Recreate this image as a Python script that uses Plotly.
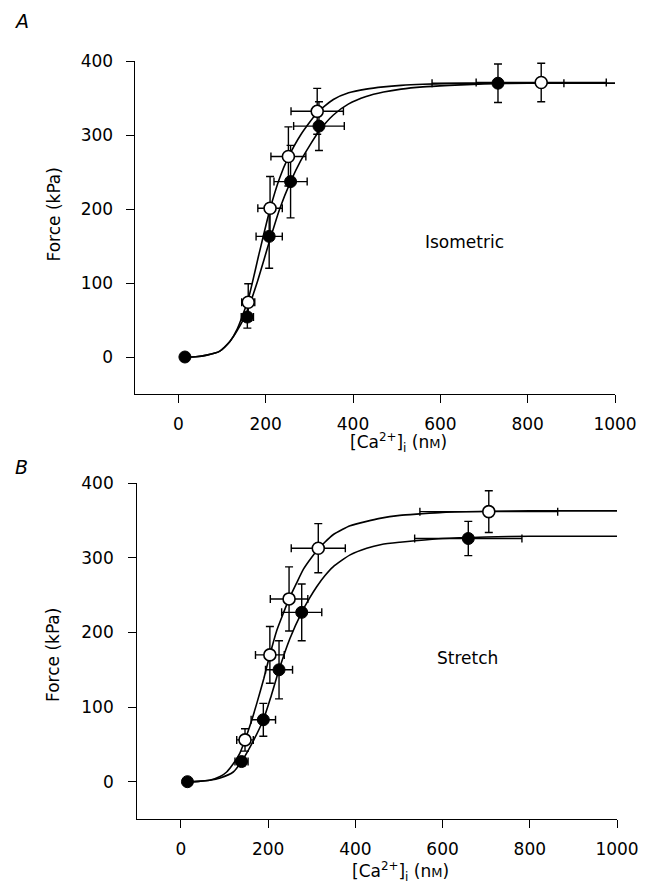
import plotly.graph_objects as go

# ---------------- Panel A : Isometric ----------------
a_fill_x = [15, 158, 208, 257, 322, 732]
a_fill_y = [0, 54, 163, 237, 312, 370]
a_fill_xerr = [0, 14, 30, 38, 58, 151]
a_fill_yerr = [0, 15, 43, 49, 33, 26]

a_open_x = [160, 210, 252, 318, 831]
a_open_y = [74, 201, 271, 332, 371]
a_open_xerr = [15, 28, 40, 60, 149]
a_open_yerr = [25, 43, 40, 31, 26]

a_fill_curve_x = [15, 40, 65, 95, 118, 135, 158, 180, 208, 232, 257, 280, 300, 322, 355, 390, 430, 470, 510, 560, 620, 700, 800, 1000]
a_fill_curve_y = [0, 0.3, 2.5, 8, 21, 36, 62, 100, 155, 200, 237, 265, 285, 305, 327, 342, 352, 358, 362, 365, 367, 369, 370, 370]

a_open_curve_x = [15, 40, 65, 95, 118, 135, 160, 185, 210, 232, 252, 280, 318, 355, 390, 430, 470, 510, 560, 620, 700, 800, 1000]
a_open_curve_y = [0, 0.3, 2.5, 8, 21, 38, 78, 140, 200, 242, 270, 300, 330, 348, 357, 362, 365, 367, 368.5, 369.5, 370, 370, 370]

# ---------------- Panel B : Stretch ----------------
b_fill_x = [15, 139, 189, 225, 277, 659]
b_fill_y = [0, 27, 83, 150, 227, 326]
b_fill_xerr = [0, 15, 28, 31, 46, 123]
b_fill_yerr = [0, 6, 22, 39, 38, 23]

b_open_x = [147, 204, 248, 315, 706]
b_open_y = [56, 170, 245, 313, 362]
b_open_xerr = [19, 33, 43, 62, 158]
b_open_yerr = [15, 38, 43, 33, 28]

b_open_curve_x = [15, 40, 66, 90, 105, 120, 135, 147, 160, 174, 190, 204, 220, 235, 248, 265, 281, 300, 315, 330, 349, 370, 388, 426, 456, 502, 548, 600, 700, 800, 1000]
b_open_curve_y = [0, 0.5, 2, 7, 13, 24, 38, 56, 78, 105, 138, 170, 203, 226, 245, 266, 285, 301, 312, 321, 331, 338, 343, 349, 353, 357, 359, 361, 362.5, 363, 363]

b_fill_curve_x = [15, 40, 66, 90, 120, 139, 160, 189, 207, 225, 250, 277, 295, 311, 330, 349, 388, 426, 460, 502, 537, 600, 700, 800, 1000]
b_fill_curve_y = [0, 0.5, 2, 5, 13, 27, 48, 83, 115, 150, 192, 227, 246, 261, 276, 288, 304, 313, 318, 321, 323, 326, 328, 329, 329]

x_ticks = [0, 200, 400, 600, 800, 1000]
y_ticks = [0, 100, 200, 300, 400]

W, H = 652, 889
OFF = 8  # page body margin
FONT = "DejaVu Sans"


def fx(px):
    return (px - OFF) / W


def fy(py):
    return 1 - (py - OFF) / H


fig = go.Figure()


def add_panel(xa, ya, cfx, cfy, cox, coy, fx_, fy_, fxe, fye, ox, oy, oxe, oye):
    for cx, cy in ((cfx, cfy), (cox, coy)):
        fig.add_trace(go.Scatter(x=cx, y=cy, mode="lines", xaxis=xa, yaxis=ya,
                                 line=dict(color="black", width=1.6, shape="spline", smoothing=0.6),
                                 hoverinfo="skip", showlegend=False))
    err = dict(type="data", color="black", thickness=1.4, width=4)
    fig.add_trace(go.Scatter(x=fx_, y=fy_, mode="markers", xaxis=xa, yaxis=ya,
                             error_x=dict(err, array=fxe), error_y=dict(err, array=fye),
                             marker=dict(color="black", size=12, line=dict(color="black", width=1)),
                             showlegend=False))
    fig.add_trace(go.Scatter(x=ox, y=oy, mode="markers", xaxis=xa, yaxis=ya,
                             error_x=dict(err, array=oxe), error_y=dict(err, array=oye),
                             marker=dict(color="white", size=12, line=dict(color="black", width=1.6)),
                             showlegend=False))


add_panel("x", "y", a_fill_curve_x, a_fill_curve_y, a_open_curve_x, a_open_curve_y,
          a_fill_x, a_fill_y, a_fill_xerr, a_fill_yerr, a_open_x, a_open_y, a_open_xerr, a_open_yerr)
add_panel("x2", "y2", b_fill_curve_x, b_fill_curve_y, b_open_curve_x, b_open_curve_y,
          b_fill_x, b_fill_y, b_fill_xerr, b_fill_yerr, b_open_x, b_open_y, b_open_xerr, b_open_yerr)

axis_common = dict(showline=True, linecolor="black", linewidth=1.3, ticks="outside", ticklen=8,
                   tickwidth=1.3, tickcolor="black", showgrid=False, zeroline=False, automargin=False,
                   tickfont=dict(family=FONT, size=17, color="black"))

fig.update_layout(
    template="none",
    width=W, height=H, autosize=False, margin=dict(l=0, r=0, t=0, b=0, pad=0),
    paper_bgcolor="white", plot_bgcolor="white", showlegend=False,
    xaxis=dict(axis_common, domain=[fx(134.7), fx(615)], range=[-100, 1000], tickvals=x_ticks,
               anchor="y", ticklabelstandoff=6),
    yaxis=dict(axis_common, domain=[fy(394), fy(61)], range=[-50, 400], tickvals=y_ticks,
               anchor="x", ticklabelstandoff=9),
    xaxis2=dict(axis_common, domain=[fx(137.3), fx(617)], range=[-100, 1000], tickvals=x_ticks,
                anchor="y2", ticklabelstandoff=6),
    yaxis2=dict(axis_common, domain=[fy(819), fy(483.3)], range=[-50, 400], tickvals=y_ticks,
                anchor="x2", ticklabelstandoff=11),
)

xtitle = "[Ca<sup>2+</sup>]<sub>i</sub> (n<span style='font-size:13px'>M</span>)"
tf = dict(family=FONT, size=17, color="black")
annots = [
    dict(text="<i>A</i>", x=fx(21.5), y=fy(21.5), font=dict(family=FONT, size=19, color="black")),
    dict(text="<i>B</i>", x=fx(21.5), y=fy(467), font=dict(family=FONT, size=19, color="black")),
    dict(text="Force (kPa)", x=fx(53), y=fy(214.5), textangle=-90, font=tf),
    dict(text="Force (kPa)", x=fx(53), y=fy(655), textangle=-90, font=tf),
    dict(text=xtitle, x=fx(398), y=fy(442), font=tf),
    dict(text=xtitle, x=fx(400), y=fy(871), font=tf),
]
for a in annots:
    fig.add_annotation(xref="paper", yref="paper", showarrow=False, xanchor="center", yanchor="middle", **a)

fig.add_annotation(text="Isometric", x=656, y=156, xref="x", yref="y", showarrow=False, font=tf)
fig.add_annotation(text="Stretch", x=658, y=166, xref="x2", yref="y2", showarrow=False, font=tf)

fig.write_html("out.html")
